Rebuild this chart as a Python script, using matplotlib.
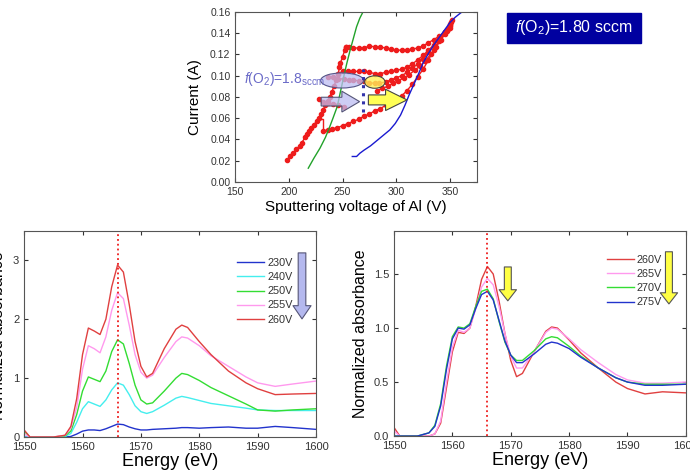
import matplotlib
matplotlib.use('Agg')
import matplotlib.pyplot as plt
from matplotlib.patches import Ellipse, FancyArrow, Rectangle

plt.rcParams['font.family'] = ['Liberation Sans', 'DejaVu Sans']
plt.rcParams['mathtext.fontset'] = 'custom'
plt.rcParams['mathtext.rm'] = 'Liberation Sans'
plt.rcParams['mathtext.it'] = 'Liberation Sans:italic'

# ---- top panel: I-V hysteresis (red dots), reference curves
v_up = [198, 201, 204, 207, 210, 212, 215, 217, 219, 221, 223, 226, 228, 230, 232, 234, 236,
        238, 240, 242, 244, 246, 247, 248, 250, 252, 253]
i_up = [0.021, 0.024, 0.027, 0.031, 0.034, 0.037, 0.042, 0.045, 0.048, 0.051, 0.054, 0.057,
        0.060, 0.064, 0.068, 0.072, 0.076, 0.080, 0.085, 0.090, 0.096, 0.102, 0.108, 0.112,
        0.118, 0.124, 0.127]
v_top = [253, 256, 260, 265, 270, 275, 280, 285, 290, 295, 300, 305, 310, 315, 320, 325, 330,
         335, 340, 345, 348, 350, 352]
i_top = [0.127, 0.127, 0.126, 0.126, 0.126, 0.128, 0.127, 0.127, 0.126, 0.125, 0.124, 0.124,
         0.124, 0.125, 0.126, 0.128, 0.131, 0.134, 0.137, 0.141, 0.144, 0.147, 0.152]
v_mid1 = [246, 250, 255, 260, 265, 270, 275, 280, 285, 290, 295, 300, 305, 310, 315, 320, 325,
          330, 335, 340, 345, 350]
i_mid1 = [0.102, 0.104, 0.104, 0.104, 0.104, 0.104, 0.103, 0.102, 0.102, 0.103, 0.104, 0.105,
          0.106, 0.108, 0.111, 0.115, 0.119, 0.124, 0.129, 0.134, 0.139, 0.145]
v_mid2 = [236, 241, 246, 251, 256, 260, 265, 270, 275, 280, 284, 290, 295, 300, 305, 310, 315,
          320, 325, 330, 335, 340, 345, 350]
i_mid2 = [0.099, 0.099, 0.097, 0.097, 0.096, 0.096, 0.095, 0.095, 0.093, 0.093, 0.093, 0.094,
          0.096, 0.098, 0.100, 0.103, 0.107, 0.111, 0.116, 0.122, 0.128, 0.135, 0.141, 0.148]
v_mid3 = [282, 287, 292, 297, 302, 307, 312, 317, 322, 327, 332, 337, 342, 347, 351]
i_mid3 = [0.086, 0.088, 0.090, 0.093, 0.095, 0.098, 0.101, 0.105, 0.109, 0.114, 0.120, 0.127,
          0.134, 0.142, 0.150]
v_low = [232, 236, 240, 245, 250, 255, 260, 265, 270, 275, 280, 285, 290, 295, 300, 305, 310,
         315, 320, 325, 330, 335, 340, 345, 350]
i_low = [0.048, 0.049, 0.050, 0.051, 0.053, 0.055, 0.057, 0.059, 0.062, 0.064, 0.067, 0.069,
         0.072, 0.074, 0.077, 0.081, 0.086, 0.092, 0.099, 0.106, 0.115, 0.124, 0.133, 0.141, 0.149]
v_row = [228, 232, 236, 241, 246, 251]
i_row = [0.078, 0.075, 0.074, 0.073, 0.072, 0.071]
v_drop = [227, 232, 232]
i_drop = [0.059, 0.059, 0.048]

v_green = [218, 223, 229, 234, 238, 241, 245, 248, 251, 254, 257, 260, 263, 266, 269]
i_green = [0.013, 0.022, 0.032, 0.042, 0.052, 0.060, 0.071, 0.085, 0.099, 0.112, 0.124,
           0.135, 0.146, 0.154, 0.160]
v_blue = [259, 263, 266, 270, 276, 282, 288, 294, 299, 304, 308, 312, 316, 320, 325, 330,
          335, 340, 345, 350, 355, 360, 363]
i_blue = [0.024, 0.024, 0.027, 0.030, 0.034, 0.039, 0.044, 0.049, 0.055, 0.063, 0.072, 0.082,
          0.091, 0.100, 0.112, 0.121, 0.129, 0.136, 0.143, 0.150, 0.155, 0.159, 0.161]

# ---- bottom-left panel: spectra 230-260 V
e_left = [1550, 1551, 1555, 1557, 1558, 1559, 1560, 1561, 1562, 1563, 1564, 1565, 1566, 1567,
          1568, 1569, 1570, 1571, 1572, 1574, 1576, 1577, 1578, 1580, 1582, 1585, 1588, 1590,
          1593, 1596, 1600]
left_labels = ['230V', '240V', '250V', '255V', '260V']
a_230 = [0.0, 0.0, 0.0, 0.0, 0.01, 0.05, 0.10, 0.12, 0.12, 0.11, 0.14, 0.18, 0.22, 0.21, 0.17,
         0.14, 0.12, 0.12, 0.13, 0.14, 0.15, 0.16, 0.16, 0.15, 0.16, 0.17, 0.15, 0.15, 0.18,
         0.16, 0.13]
a_240 = [0.0, 0.0, 0.0, 0.01, 0.06, 0.25, 0.48, 0.60, 0.56, 0.52, 0.63, 0.80, 0.92, 0.88, 0.72,
         0.53, 0.43, 0.40, 0.43, 0.54, 0.66, 0.69, 0.67, 0.62, 0.57, 0.53, 0.49, 0.46, 0.45,
         0.45, 0.45]
a_250 = [0.10, 0.0, 0.0, 0.02, 0.10, 0.38, 0.78, 1.02, 0.98, 0.94, 1.12, 1.45, 1.65, 1.58, 1.25,
         0.88, 0.63, 0.56, 0.58, 0.78, 1.00, 1.08, 1.06, 0.96, 0.84, 0.70, 0.56, 0.46, 0.44,
         0.46, 0.48]
a_255 = [0.05, 0.0, 0.0, 0.03, 0.15, 0.50, 1.15, 1.55, 1.50, 1.43, 1.70, 2.15, 2.45, 2.35, 1.90,
         1.40, 1.10, 1.00, 1.05, 1.35, 1.62, 1.70, 1.68, 1.55, 1.38, 1.20, 1.02, 0.92, 0.86,
         0.90, 0.95]
a_260 = [0.12, 0.0, 0.0, 0.03, 0.18, 0.65, 1.40, 1.85, 1.80, 1.74, 2.00, 2.55, 2.92, 2.80, 2.25,
         1.62, 1.20, 1.02, 1.08, 1.50, 1.83, 1.90, 1.86, 1.62, 1.40, 1.12, 0.92, 0.82, 0.72,
         0.73, 0.74]
left_colors = ['#2233cc', '#44eeee', '#33dd33', '#ff99ee', '#e04040']

# ---- bottom-right panel: spectra 260-275 V
e_right = [1550, 1551, 1554, 1556, 1557, 1558, 1559, 1560, 1561, 1562, 1563, 1564, 1565, 1566,
           1567, 1568, 1569, 1570, 1571, 1572, 1574, 1576, 1577, 1578, 1580, 1582, 1585, 1588,
           1590, 1593, 1596, 1600]
right_labels = ['260V', '265V', '270V', '275V']
b_260 = [0.08, 0.0, 0.0, 0.0, 0.02, 0.12, 0.45, 0.78, 0.96, 0.95, 1.00, 1.20, 1.45, 1.57, 1.50,
         1.25, 0.95, 0.70, 0.55, 0.58, 0.78, 0.97, 1.01, 1.00, 0.89, 0.77, 0.63, 0.50, 0.44,
         0.39, 0.41, 0.40]
b_265 = [0.05, 0.0, 0.0, 0.0, 0.02, 0.14, 0.50, 0.82, 0.98, 0.96, 1.00, 1.18, 1.38, 1.46, 1.40,
         1.20, 0.95, 0.74, 0.63, 0.63, 0.78, 0.96, 1.00, 0.99, 0.90, 0.80, 0.68, 0.57, 0.52,
         0.49, 0.49, 0.50]
b_270 = [0.0, 0.0, 0.0, 0.03, 0.10, 0.30, 0.65, 0.92, 1.01, 1.00, 1.04, 1.20, 1.34, 1.36, 1.27,
         1.06, 0.87, 0.75, 0.70, 0.70, 0.79, 0.90, 0.92, 0.91, 0.83, 0.74, 0.63, 0.54, 0.50,
         0.48, 0.48, 0.48]
b_275 = [0.0, 0.0, 0.0, 0.03, 0.09, 0.28, 0.62, 0.90, 1.00, 0.99, 1.03, 1.18, 1.31, 1.34, 1.26,
         1.07, 0.88, 0.75, 0.68, 0.68, 0.76, 0.85, 0.87, 0.86, 0.81, 0.73, 0.63, 0.54, 0.50,
         0.47, 0.47, 0.48]
right_colors = ['#e04040', '#ff99ee', '#33dd33', '#2233cc']

peak_e = 1566


def style_axes(ax, size):
    ax.tick_params(direction='in', top=True, right=True, labelsize=size,
                   colors='#333333', length=3, width=0.8)
    for s in ax.spines.values():
        s.set_color('#555555')
        s.set_linewidth(0.8)


fig = plt.figure(figsize=(6.9, 4.74), dpi=100)

# top panel
ax0 = fig.add_axes([0.341, 0.616, 0.350, 0.359])
red_sets = [(v_up, i_up), (v_top, i_top), (v_mid1, i_mid1), (v_mid2, i_mid2),
            (v_mid3, i_mid3), (v_low, i_low), (v_row, i_row)]
for vv, ii in red_sets:
    ax0.plot(vv, ii, '-o', color='#ee1c1c', lw=1, ms=3, mec='#ee1c1c')
ax0.plot(v_drop, i_drop, '-', color='#ee1c1c', lw=1)
ax0.plot(v_green, i_green, color='#22a22a', lw=1)
ax0.plot(v_blue, i_blue, color='#1a1ad0', lw=1)
ax0.set_xlim(150, 375)
ax0.set_ylim(0, 0.16)
ax0.set_xticks([150, 200, 250, 300, 350])
ax0.set_yticks([0, 0.02, 0.04, 0.06, 0.08, 0.10, 0.12, 0.14, 0.16])
ax0.set_yticklabels(['0.00', '0.02', '0.04', '0.06', '0.08', '0.10', '0.12', '0.14', '0.16'])
style_axes(ax0, 7.5)
ax0.set_xlabel('Sputtering voltage of Al (V)', fontsize=11, labelpad=2)
ax0.set_ylabel('Current (A)', fontsize=11, labelpad=6)

ax0.add_patch(Ellipse((249.5, 0.0955), 40, 0.0142, facecolor=(0.74, 0.74, 0.95, 0.75),
                      edgecolor='#555588', lw=0.8, zorder=5))
ax0.add_patch(Ellipse((280, 0.094), 19, 0.0117, facecolor=(1.0, 0.95, 0.35, 0.8),
                      edgecolor='#444444', lw=0.8, zorder=5))
ax0.add_patch(FancyArrow(230, 0.0756, 35.8, 0, width=0.0082, head_width=0.0196,
                         head_length=16.5, length_includes_head=True,
                         facecolor=(0.74, 0.74, 0.95, 0.75), edgecolor='#555577', lw=0.8,
                         zorder=5))
ax0.add_patch(FancyArrow(274, 0.0772, 36, 0, width=0.0094, head_width=0.02,
                         head_length=20, length_includes_head=True,
                         facecolor='#ffff55', edgecolor='#444444', lw=0.8, zorder=5))
ax0.plot([269, 269], [0.066, 0.106], ':', color='#3333aa', lw=2.2, zorder=6)
ax0.text(158, 0.0973, r'$f$(O$_2$)=1.8$_{\rm sccm}$', color='#6a6ac8', fontsize=10,
         va='center', ha='left', zorder=6)

# label box
fig.add_artist(Rectangle((0.7348, 0.9093), 0.1942, 0.0633, transform=fig.transFigure,
                         facecolor='#0000a0', edgecolor='#0000a0'))
fig.text(0.832, 0.941, r'$f$(O$_2$)=1.80 sccm', color='white', fontsize=11.5,
         ha='center', va='center')

# bottom-left panel
ax1 = fig.add_axes([0.035, 0.078, 0.423, 0.435])
for series, lab, col in zip([a_230, a_240, a_250, a_255, a_260], left_labels, left_colors):
    ax1.plot(e_left, series, color=col, lw=1, label=lab)
ax1.axvline(peak_e, color='#ee1c1c', ls=':', lw=1.3)
ax1.set_xlim(1550, 1600)
ax1.set_ylim(0, 3.5)
ax1.set_xticks(range(1550, 1601, 10))
ax1.set_yticks([0, 1, 2, 3])
style_axes(ax1, 8)
ax1.set_xlabel('Energy (eV)', fontsize=13, labelpad=1)
leg1 = ax1.legend(loc='upper left', bbox_to_anchor=(0.695, 0.915), frameon=False,
                  fontsize=7.8, handlelength=2.5, labelspacing=0.38, handletextpad=0.3)
ax1.annotate('', xy=(0.952, 0.573), xytext=(0.952, 0.893), xycoords='axes fraction',
             arrowprops=dict(arrowstyle='simple,head_length=0.95,head_width=1.3,tail_width=0.55',
                             mutation_scale=10, facecolor='#b4b8ee', edgecolor='#555577',
                             lw=0.8, shrinkA=0, shrinkB=0))
fig.text(-0.002, 0.291, 'Normalized absorbance', rotation=90, fontsize=11.5,
         ha='center', va='center')

# bottom-right panel
ax2 = fig.add_axes([0.571, 0.080, 0.423, 0.433])
for series, lab, col in zip([b_260, b_265, b_270, b_275], right_labels, right_colors):
    ax2.plot(e_right, series, color=col, lw=1, label=lab)
ax2.axvline(peak_e, color='#ee1c1c', ls=':', lw=1.3)
ax2.set_xlim(1550, 1600)
ax2.set_ylim(0, 1.9)
ax2.set_xticks(range(1550, 1601, 10))
ax2.set_yticks([0, 0.5, 1.0, 1.5])
ax2.set_yticklabels(['0.0', '0.5', '1.0', '1.5'])
style_axes(ax2, 8)
ax2.set_xlabel('Energy (eV)', fontsize=13, labelpad=1)
ax2.set_ylabel('Normalized absorbance', fontsize=11.5, labelpad=4)
leg2 = ax2.legend(loc='upper left', bbox_to_anchor=(0.695, 0.93), frameon=False,
                  fontsize=7.8, handlelength=2.5, labelspacing=0.38, handletextpad=0.3)
for leg in (leg1, leg2):
    for t in leg.get_texts():
        t.set_color('#333333')
yellow_arrow = dict(arrowstyle='simple,head_length=0.8,head_width=1.25,tail_width=0.5',
                    mutation_scale=10, facecolor='#ffff44', edgecolor='#555555', lw=0.8,
                    shrinkA=0, shrinkB=0)
ax2.annotate('', xy=(0.390, 0.659), xytext=(0.390, 0.824), xycoords='axes fraction',
             arrowprops=yellow_arrow)
ax2.annotate('', xy=(0.942, 0.644), xytext=(0.942, 0.898), xycoords='axes fraction',
             arrowprops=yellow_arrow)

fig.savefig('out.png', dpi=100)
